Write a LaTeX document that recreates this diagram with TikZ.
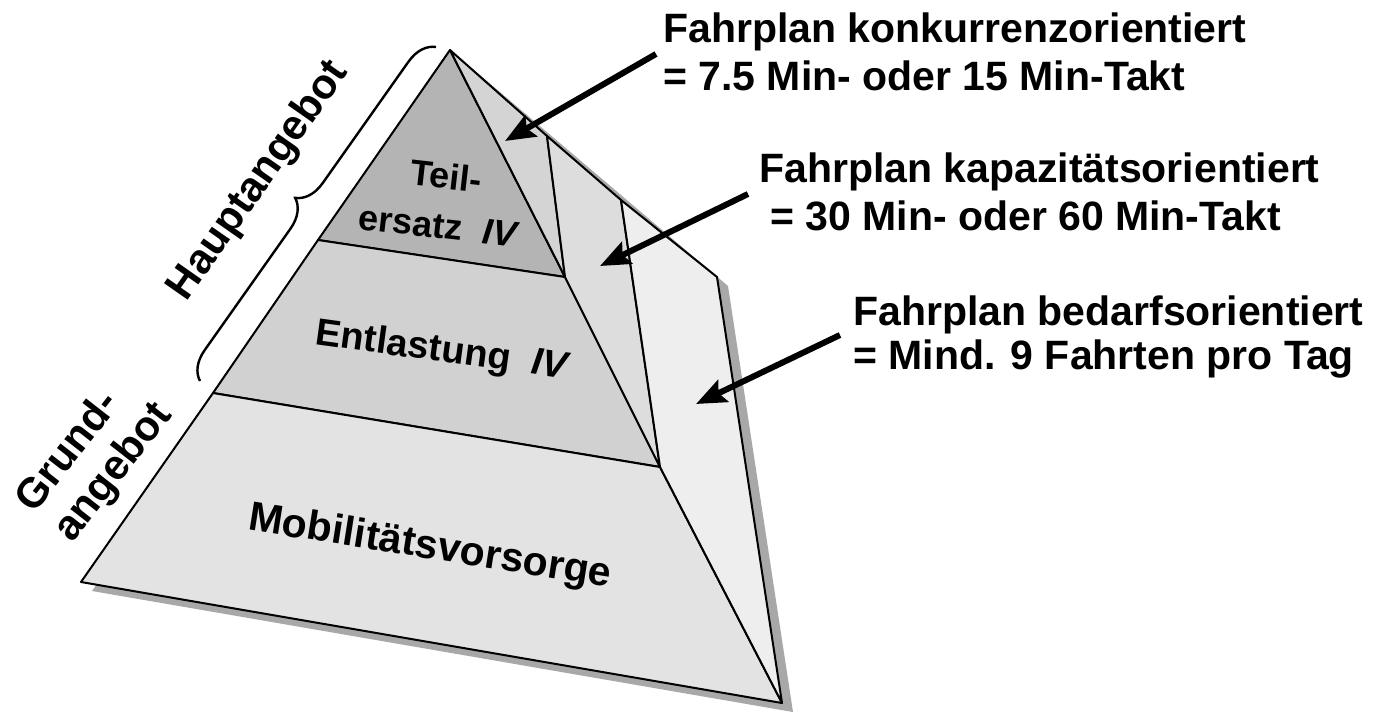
\documentclass[tikz,border=0pt]{standalone}
\usepackage{fontspec}
\setmainfont{Liberation Sans}
\usetikzlibrary{arrows.meta,decorations.pathreplacing,calc}
\definecolor{shadowgray}{HTML}{A8A8A8}
\definecolor{tiertop}{HTML}{B4B4B4}
\definecolor{tiermid}{HTML}{D1D1D1}
\definecolor{tierbot}{HTML}{E3E3E3}
\definecolor{sideA}{HTML}{D4D4D4}
\definecolor{sideB}{HTML}{DDDDDD}
\definecolor{sideC}{HTML}{EEEEEE}
\begin{document}
\begin{tikzpicture}[x=1pt,y=-1pt,
  edge/.style={draw=black,line width=2pt,line join=round},
  arr/.style={line width=6pt,-{Stealth[length=30pt,width=24pt,inset=5pt]}},
  callout/.style={anchor=base west,inner sep=0pt,font=\bfseries\fontsize{41}{48}\selectfont},
  pyrlabel/.style={inner sep=0pt,align=center},
  bracestyle/.style={draw=black,line width=2.4pt,decorate,decoration={brace,amplitude=28pt}}]
\useasboundingbox (0,0) rectangle (1389,713);
% vertices
\coordinate (A) at (450,50);
\coordinate (BL) at (81,582);
\coordinate (BR) at (782,703);
\coordinate (RT) at (717,277);
\coordinate (L1) at (318,240);
\coordinate (R1) at (565,277);
\coordinate (L2) at (213,393);
\coordinate (R2) at (660,467);
\coordinate (P1) at (547,136);
\coordinate (P2) at (621,200);
% shadow
\fill[shadowgray] ($(A)+(11,9)$) -- ($(BL)+(11,9)$) -- ($(BR)+(11,9)$) -- ($(RT)+(11,9)$) -- cycle;
% front face tiers
\filldraw[edge,fill=tiertop] (A) -- (L1) -- (R1) -- cycle;
\filldraw[edge,fill=tiermid] (L1) -- (L2) -- (R2) -- (R1) -- cycle;
\filldraw[edge,fill=tierbot] (L2) -- (BL) -- (BR) -- (R2) -- cycle;
% right face
\filldraw[edge,fill=sideA] (A) -- (P1) -- (R1) -- cycle;
\filldraw[edge,fill=sideB] (P1) -- (P2) -- (R2) -- (R1) -- cycle;
\filldraw[edge,fill=sideC] (P2) -- (RT) -- (BR) -- (R2) -- cycle;
% pyramid labels
\node[pyrlabel,rotate=-6.5,font=\bfseries\fontsize{36}{42}\selectfont] (teil) at (446,176) {Teil-};
\node[pyrlabel,rotate=-6.5,font=\bfseries\fontsize{36}{42}\selectfont] (ersatz) at (439,226) {ersatz\ \ \textit{IV}};
\node[pyrlabel,rotate=-7.8,font=\bfseries\fontsize{38}{44}\selectfont] (entl) at (443,352) {Entlastung\ \ \textit{IV}};
\node[pyrlabel,rotate=-9,font=\bfseries\fontsize{41}{48}\selectfont] (mob) at (430,548) {Mobilitätsvorsorge};
% side labels
\coordinate (brB) at (200,381);
\coordinate (brT) at (436,47);
\draw[bracestyle] (brB) -- (brT);
\node[pyrlabel,rotate=55,font=\bfseries\fontsize{42}{48}\selectfont] (haupt) at (259,181) {Hauptangebot};
\node[inner sep=0pt,align=left,rotate=52,font=\bfseries\fontsize{42}{48}\selectfont] (grund) at (95,458) {Grund-\\angebot};
% callouts
\node[callout] (k1) at (663,42) {Fahrplan konkurrenzorientiert};
\node[callout] (k2) at (663,90) {= 7.5 Min- oder 15 Min-Takt};
\node[callout] (c1) at (759,182) {Fahrplan kapazitätsorientiert};
\node[callout] (c2) at (770,230) {= 30 Min- oder 60 Min-Takt};
\node[callout] (b1) at (853,325) {Fahrplan bedarfsorientiert};
\node[callout] (b2) at (853,369) {= Mind. 9 Fahrten pro Tag};
% arrows
\coordinate (a1s) at (656,54);
\coordinate (a1e) at (505,141);
\coordinate (a2s) at (748,194);
\coordinate (a2e) at (600,266);
\coordinate (a3s) at (840,335);
\coordinate (a3e) at (696,404);
\draw[arr] (a1s) -- (a1e);
\draw[arr] (a2s) -- (a2e);
\draw[arr] (a3s) -- (a3e);
\end{tikzpicture}
\end{document}
